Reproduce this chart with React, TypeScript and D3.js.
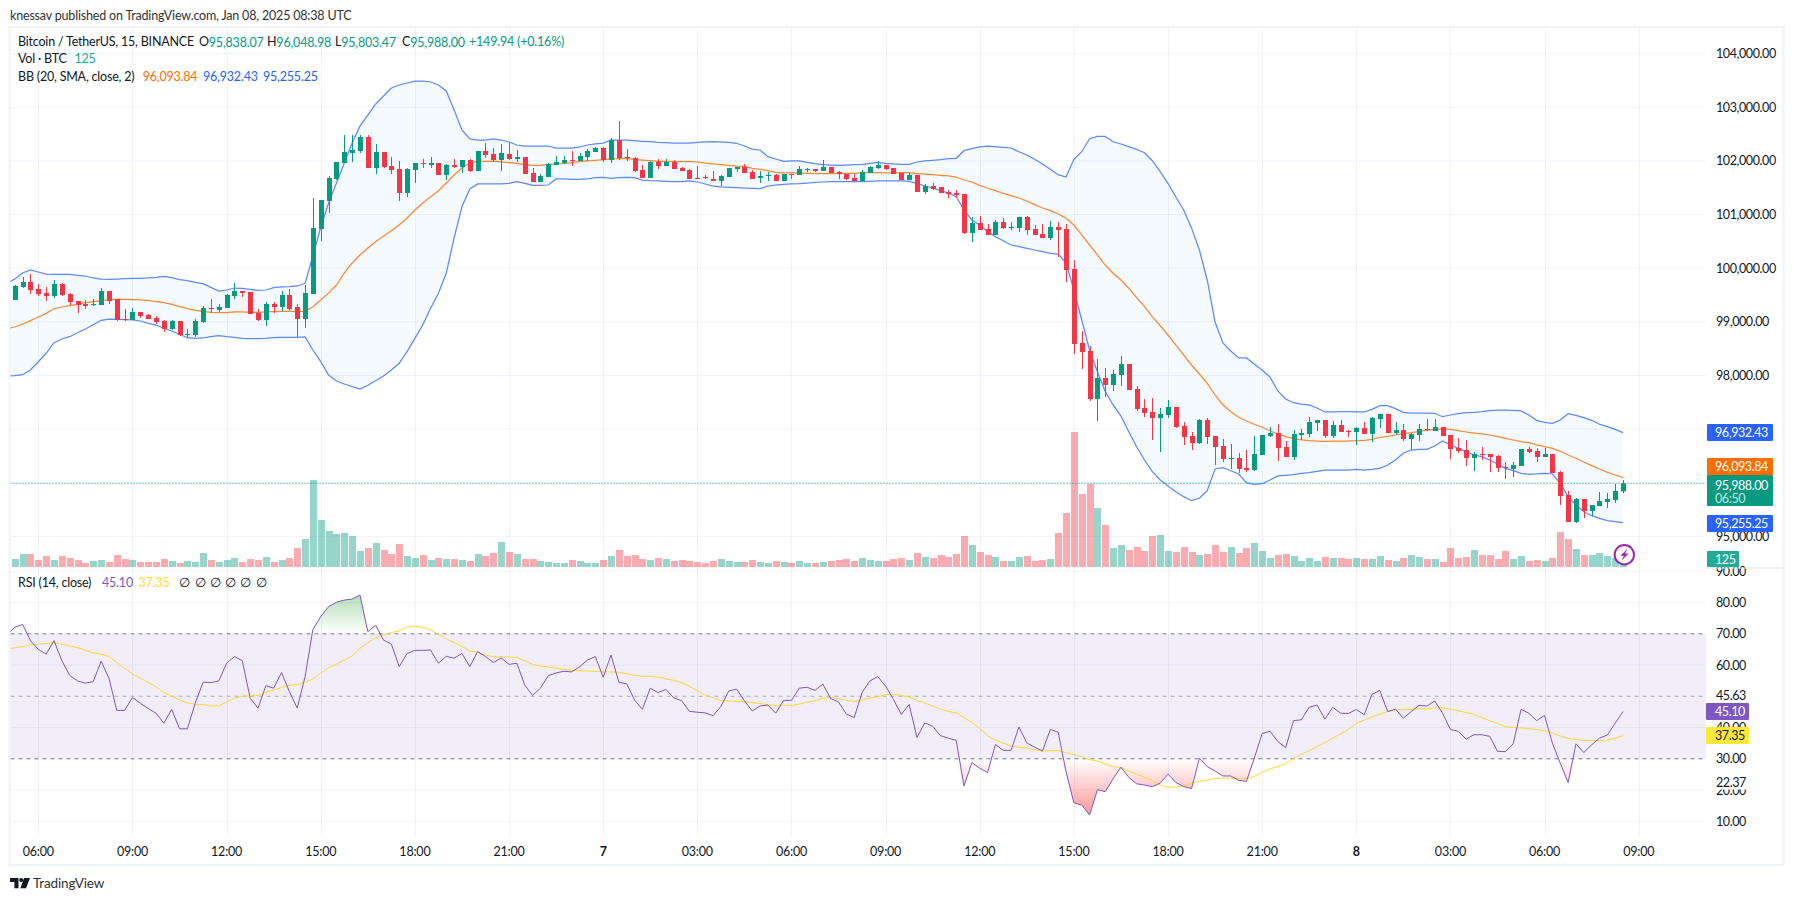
import React from "react";
import * as d3 from "d3";

const opens = [99407,99649,99742,99612,99537,99481,99705,99518,99388,99332,99313,99313,99574,99425,99052,99034,99183,99127,99071,99015,98866,99015,98754,98754,98996,99257,99220,99257,99481,99574,99556,99164,99034,99332,99276,99500,99276,99052,99518,100731,101253,101663,101961,102148,102185,102446,101868,102166,101905,101849,101402,101831,101961,101924,101961,101738,101924,101887,102017,101812,102185,102129,102017,102129,102036,102073,101775,101607,101700,101924,101961,102017,101999,102073,102166,102241,102017,102390,102073,102054,101831,101682,101980,101905,101980,101868,101831,101682,101700,101663,101626,101700,101849,101887,101793,101682,101719,101738,101626,101756,101738,101831,101849,101812,101887,101793,101756,101682,101626,101775,101868,101924,101868,101775,101644,101738,101421,101532,101514,101421,101402,101383,100656,100842,100731,100619,100861,100749,100749,100954,100731,100637,100563,100768,100731,99985,98605,98456,97560,97952,97822,98008,98213,97747,97393,97318,97206,97262,97411,97057,96870,96740,97169,96870,96684,96441,96460,96274,96236,96516,96870,96926,96665,96479,96889,96908,97113,97169,96870,97075,96964,96945,97019,96908,97187,97281,96926,96982,96814,96889,97001,96964,97038,96889,96647,96609,96460,96535,96535,96497,96292,96255,96311,96628,96591,96479,96535,96199,95770,95267,95696,95472,95565,95640,95677,95838.07];
const highs = [99686,99835,99891,99705,99649,99780,99724,99537,99388,99407,99425,99630,99574,99425,99239,99257,99183,99145,99108,99034,99034,99015,98866,99052,99295,99425,99332,99518,99724,99574,99556,99239,99369,99369,99574,99612,99332,99686,101309,101271,101719,101980,102483,102483,102483,102483,102316,102166,102073,101999,101868,101961,102036,102073,101961,101943,102036,102017,102036,102185,102334,102241,102316,102334,102204,102073,101868,101756,101961,102092,102092,102185,102148,102222,102260,102260,102427,102745,102222,102073,101924,101999,102036,102036,102017,101887,101849,101905,101738,101812,101738,101868,101887,101943,101831,101812,101793,101756,101756,101756,101905,101868,101849,102017,101887,101812,101756,101756,101831,101905,101999,101924,101868,101775,101775,101738,101570,101588,101514,101458,101458,101383,100954,100973,100824,100898,100936,100861,100954,100973,100805,100824,100880,100861,100824,100152,98828,98549,98306,98139,98101,98362,98213,97803,97560,97579,97393,97542,97411,97131,96945,97187,97206,96870,96814,96721,96553,96609,96870,96889,97038,97094,96777,96982,97001,97225,97169,97169,97150,97169,96982,97038,97131,97225,97281,97281,97131,97094,96926,97094,97187,97187,97038,96889,96833,96796,96572,96665,96535,96516,96385,96385,96628,96665,96647,96647,96535,96218,95845,95714,95696,95584,95826,95808,95975,96048.98];
const lows = [99407,99630,99518,99481,99388,99444,99481,99313,99164,99239,99295,99313,99332,99015,99015,99034,99071,99052,98959,98810,98847,98735,98717,98717,98978,99164,99183,99257,99425,99462,99145,99015,98922,99164,99201,99220,98717,98884,99518,100507,101029,101644,101961,101980,102148,101868,101756,101868,101756,101253,101327,101588,101868,101868,101738,101644,101868,101775,101793,101812,102054,101980,101812,102017,101980,101756,101607,101607,101700,101924,101943,101905,101999,101999,102166,101980,101961,102017,101999,101793,101682,101682,101849,101905,101849,101812,101663,101663,101663,101626,101532,101700,101793,101775,101663,101588,101626,101626,101626,101663,101738,101793,101793,101812,101775,101663,101644,101626,101626,101775,101849,101831,101756,101644,101644,101421,101383,101458,101402,101309,101309,100637,100488,100712,100619,100619,100731,100712,100675,100619,100619,100563,100525,100208,99742,98400,98120,97523,97150,97598,97710,97803,97728,97337,97225,96796,96572,97206,97019,96703,96609,96721,96721,96330,96385,96255,96180,96199,96218,96516,96852,96404,96479,96423,96796,96852,96964,96833,96833,96945,96852,96703,96908,96758,97019,96926,96889,96777,96609,96777,96964,96964,96870,96441,96553,96311,96218,96423,96199,96199,96069,96106,96311,96553,96385,96479,96180,95584,95267,95248,95341,95379,95565,95528,95621,95803.47];
const closes = [99668,99742,99593,99518,99481,99705,99500,99369,99313,99295,99332,99574,99388,99034,99034,99183,99108,99052,98996,98866,99015,98754,98772,99015,99257,99239,99276,99500,99574,99537,99145,99034,99332,99276,99500,99239,99052,99537,100749,101271,101682,101980,102166,102204,102446,101868,102166,101887,101831,101402,101849,101961,101943,101961,101738,101924,101887,102017,101812,102185,102110,102017,102148,102036,102073,101756,101607,101719,101943,101980,102017,101999,102092,102185,102241,102017,102390,102054,102054,101812,101682,101980,101905,101980,101849,101812,101663,101663,101682,101626,101719,101868,101887,101775,101663,101719,101738,101626,101756,101738,101849,101849,101812,101887,101775,101756,101663,101626,101793,101887,101924,101849,101756,101644,101738,101421,101532,101476,101402,101383,101365,100656,100842,100712,100619,100861,100749,100768,100954,100712,100619,100563,100768,100712,99966,98586,98437,97560,97952,97822,98027,98213,97728,97374,97299,97206,97281,97411,97038,96852,96740,97169,96852,96665,96441,96460,96255,96236,96535,96889,96926,96647,96479,96908,96926,97131,97169,96870,97075,96945,96945,97019,96908,97206,97281,96926,96982,96814,96908,97001,96982,97038,96870,96628,96591,96460,96535,96516,96479,96274,96274,96330,96628,96572,96479,96535,96180,95752,95267,95696,95472,95584,95658,95696,95845,95988];
const volumes = [400,650,650,350,550,350,550,450,350,200,300,350,250,600,400,350,250,250,250,400,300,200,300,250,700,350,250,350,450,250,400,350,500,250,350,450,950,1400,4350,2350,1800,1650,1700,1550,800,950,1200,850,650,1150,550,450,600,350,450,400,400,350,300,650,550,700,1250,750,650,400,400,300,250,200,200,350,300,200,200,350,550,850,550,600,400,350,450,400,300,350,300,250,200,300,400,300,250,250,350,250,200,300,250,200,300,200,200,250,300,350,400,300,450,350,300,300,400,450,350,700,500,450,600,500,650,1550,1100,750,600,500,300,300,500,550,300,350,400,1700,2700,6750,3650,4150,2950,2100,950,1100,850,1000,800,1550,1600,800,750,1000,750,600,650,1100,750,1000,700,950,1200,800,450,600,650,550,300,450,300,500,450,450,400,450,400,400,550,350,300,450,600,500,400,400,250,950,450,500,850,600,600,400,800,400,550,300,350,300,450,1750,1400,900,600,600,700,550,450,125];
// the line series start one bar earlier than the candles (bar index -1, at the left edge)
const bbUpper = [99724,99798,99910,99966,99929,99891,99886,99886,99886,99867,99854,99817,99798,99793,99798,99804,99811,99811,99817,99830,99849,99822,99785,99766,99737,99711,99643,99574,99593,99630,99625,99606,99587,99593,99636,99649,99655,99668,99718,100227,100768,101215,101588,101961,102334,102651,102856,103062,103211,103360,103416,103453,103490,103490,103472,103416,103304,102950,102577,102409,102390,102390,102409,102390,102353,102297,102278,102278,102278,102278,102241,102241,102241,102260,102297,102316,102334,102390,102390,102390,102377,102366,102358,102347,102340,102334,102334,102334,102347,102353,102358,102353,102347,102329,102278,102222,102204,102079,102036,101993,101999,101999,101974,101948,101930,101924,101918,101924,101930,101937,101956,101974,101956,101943,101937,101937,101980,101999,102012,102023,102042,102049,102191,102228,102260,102278,102265,102254,102241,102172,102110,102030,101943,101844,101743,101700,102030,102172,102414,102459,102459,102358,102316,102265,102217,102153,102004,101799,101583,101327,101085,100749,100339,99780,98996,98605,98456,98325,98325,98213,98101,97971,97710,97560,97491,97467,97449,97393,97318,97318,97324,97324,97318,97318,97368,97436,97436,97380,97312,97299,97299,97299,97294,97230,97262,97286,97305,97312,97324,97342,97355,97355,97350,97337,97262,97163,97126,97107,97169,97286,97256,97212,97163,97089,97044,96995,96932.43];
const bbBasis = [98879,98903,98959,99021,99089,99158,99244,99276,99300,99326,99356,99375,99394,99407,99420,99420,99412,99407,99401,99375,99356,99326,99282,99244,99214,99196,99177,99170,99170,99183,99183,99177,99177,99183,99188,99196,99196,99188,99201,99282,99407,99537,99686,99910,100097,100246,100376,100494,100600,100699,100805,100936,101085,101215,101333,101445,101588,101738,101868,101961,101993,101993,101993,101980,101967,101956,101930,101918,101918,101937,101943,101948,101967,101986,102004,102012,102023,102036,102042,102042,102030,102017,102004,101993,101993,101986,101986,101986,101980,101961,101943,101930,101918,101905,101900,101862,101844,101818,101788,101775,101775,101775,101769,101762,101762,101762,101762,101769,101769,101780,101780,101780,101775,101775,101780,101780,101762,101756,101743,101732,101719,101700,101644,101607,101545,101490,101445,101396,101352,101309,101253,101184,101122,101072,101010,100930,100805,100619,100432,100246,100059,99905,99780,99625,99450,99282,99095,98927,98754,98567,98381,98194,98027,97853,97635,97449,97324,97219,97150,97089,97033,96969,96908,96858,96820,96796,96783,96777,96772,96777,96777,96777,96783,96790,96809,96846,96865,96889,96914,96932,96958,96982,96995,97001,96995,96969,96945,96926,96908,96889,96858,96827,96796,96764,96746,96703,96671,96641,96585,96516,96455,96386,96317,96255,96193,96143,96093.84];
const bbLower = [97989,97995,98014,98101,98256,98413,98610,98679,98722,98797,98866,98946,99028,99052,99047,99039,99034,99015,98972,98940,98879,98828,98767,98703,98692,98698,98722,98741,98722,98711,98692,98685,98685,98692,98703,98711,98711,98711,98717,98474,98256,98008,97896,97840,97790,97747,97816,97902,97989,98101,98226,98443,98692,98940,99252,99531,99905,100563,101146,101476,101570,101570,101570,101570,101583,101613,101583,101545,101545,101551,101663,101663,101657,101657,101663,101687,101695,101676,101687,101695,101687,101644,101631,101626,101620,101613,101613,101626,101607,101570,101532,101514,101508,101501,101495,101490,101482,101532,101551,101564,101570,101575,101588,101601,101607,101613,101613,101613,101613,101613,101620,101626,101626,101626,101626,101620,101583,101532,101495,101445,101402,101333,101085,100898,100805,100680,100587,100512,100432,100401,100371,100339,100307,100277,100264,100097,99593,99034,98474,98070,97697,97449,97243,96951,96671,96423,96205,96050,95938,95832,95739,95664,95709,95851,96255,96279,96223,96162,96000,95970,95981,96050,96125,96138,96149,96175,96186,96212,96236,96236,96236,96236,96249,96236,96249,96268,96330,96423,96548,96609,96622,96622,96684,96777,96703,96641,96578,96516,96485,96423,96348,96268,96223,96175,96156,96162,96175,96162,95988,95739,95584,95459,95384,95336,95291,95272,95255.25];
const rsi = [69.6,72.1,73.0,67.8,65.0,63.5,67.8,61.4,56.7,54.9,54.2,54.7,61.2,55.8,45.5,45.5,49.6,47.8,46.1,44.6,41.4,45.8,39.6,39.6,47.8,54.5,54.4,54.9,60.6,62.7,61.4,49.4,46.2,53.4,52.6,57.6,51.5,46.2,56.3,71.4,75.5,78.7,80.1,80.8,81.1,82.4,70.7,72.7,68.0,66.7,59.5,63.7,64.7,64.7,64.8,60.6,62.8,62.2,63.7,59.5,64.3,62.7,60.8,62.3,60.2,60.6,53.6,50.3,52.6,56.6,57.5,58.0,57.8,59.5,61.6,62.7,56.1,63.2,54.5,54.0,48.8,45.8,52.6,51.2,52.2,49.5,48.6,45.2,44.9,44.7,43.8,46.7,51.7,52.3,48.6,45.3,46.9,47.2,44.6,48.7,48.7,52.6,52.9,51.9,53.9,49.3,48.2,44.3,43.2,51.2,54.9,56.3,53.3,49.0,44.2,47.4,36.8,41.5,40.4,37.4,36.6,35.9,21.3,28.8,27.0,25.6,34.6,32.7,32.7,40.2,35.1,33.7,32.5,39.4,38.5,25.9,15.9,15.2,12.0,20.1,19.5,23.6,27.3,24.1,22.0,21.6,21.1,22.2,25.1,22.4,21.1,20.5,30.2,27.5,26.1,24.5,24.5,23.1,22.8,30.2,38.1,38.8,35.5,33.6,42.2,42.5,46.5,47.2,42.7,46.5,44.6,44.5,45.8,44.1,50.6,51.9,45.1,45.9,43.0,45.1,47.1,46.9,48.5,44.6,39.4,38.8,36.3,37.7,37.7,37.2,32.4,32.3,34.8,45.8,44.6,42.2,43.9,35.0,28.6,22.37,34.8,32.0,34.5,36.6,37.6,41.4,45.10];
const rsiMa = [65.2,65.5,65.9,66.4,66.7,66.9,67.2,66.7,66.1,65.6,64.7,63.9,63.5,62.7,60.9,59.0,57.2,55.8,54.5,53.1,51.2,50.1,48.8,47.9,47.4,47.4,46.9,46.9,48.2,49.4,50.0,50.1,50.3,51.3,52.0,52.8,53.5,53.8,54.4,55.6,57.4,59.1,60.3,61.6,62.9,65.3,67.2,68.7,69.7,70.4,70.9,72.1,72.5,72.1,71.2,69.8,68.4,67.2,66.0,64.5,64.1,63.2,62.7,62.6,62.6,62.4,61.4,60.2,59.7,59.4,59.0,58.6,58.3,58.2,58.1,58.0,57.8,57.8,57.7,57.2,56.7,56.4,56.4,56.1,55.6,55.1,54.4,53.2,51.8,50.4,49.6,48.6,48.5,48.4,48.3,48.0,47.7,47.3,47.1,47.1,47.1,47.5,48.1,48.6,49.4,49.6,49.3,48.7,48.4,48.8,49.4,49.8,50.6,50.6,50.3,49.7,48.7,47.9,46.9,45.9,45.2,44.7,43.2,41.6,39.7,37.4,36.0,35.0,34.1,33.7,33.5,32.8,32.5,32.6,32.6,32.0,31.4,30.7,29.7,29.3,28.4,27.5,27.2,26.0,25.1,24.1,23.1,21.6,20.9,21.0,21.3,22.2,22.8,23.2,23.8,23.8,23.8,23.7,23.7,24.3,25.7,26.8,27.5,28.4,30.2,31.4,32.6,33.9,35.2,36.6,38.0,39.4,41.4,42.4,43.4,44.3,45.1,45.6,45.7,45.8,46.0,46.0,46.3,46.3,45.9,45.4,44.8,44.2,43.2,42.2,41.3,40.3,40.0,39.9,39.7,39.3,39.0,38.2,37.3,36.5,36.2,35.9,35.8,35.8,36.0,36.6,37.35];

const timeLabels = ["06:00","09:00","12:00","15:00","18:00","21:00","7","03:00","06:00","09:00","12:00","15:00","18:00","21:00","8","03:00","06:00","09:00"];
const priceTicks = [104000,103000,102000,101000,100000,99000,98000,97000,96000,95000];
const rsiTicks = [90,80,70,60,40,30,20,10];
const GREEN = "#089981", RED = "#f23645", BLUE = "#2962ff", ORANGE = "#ff6d00", PURPLE = "#7e57c2", YELLOW = "#fdd835";
const GRID = "#f0f3fa", TEXT = "#131722";
const FONT = "Lato, 'Open Sans', sans-serif";

const L = 10.5, R = 1706, MAIN_TOP = 28, MAIN_BOTTOM = 567, RSI_TOP = 569, RSI_BOTTOM = 837;

const x = d3.scaleLinear().domain([0, 205]).range([14.8, 14.8 + 205 * 7.845]);
const y = d3.scaleLinear().domain([95000, 103000]).range([536.3, 107.3]);
const yVol = d3.scaleLinear().domain([0, 6750]).range([567, 432]);
const yRsi = d3.scaleLinear().domain([50, 10]).range([696.3, 821.3]);

const fmt = d3.format(",.2f");
const lineOf = (scale: any, offset: number) =>
  d3.line<number>().x((_, i) => x(i + offset)).y((d) => scale(d));

function Badge({ xx, y0, y1, w, fill, text, color = "#fff", sub, pad = 8 }: any) {
  return (
    <g>
      <rect x={xx} y={y0} width={w} height={y1 - y0} fill={fill} rx={1} />
      <text x={xx + pad} y={sub ? y0 + 10 : (y0 + y1) / 2} dominantBaseline="central" fill={color}>{text}</text>
      {sub && <text x={xx + pad} y={y0 + 23} dominantBaseline="central" fill={color} opacity={0.75}>{sub}</text>}
    </g>
  );
}

export default function App() {
  const upper = lineOf(y, -1)(bbUpper) as string;
  const basis = lineOf(y, -1)(bbBasis) as string;
  const lower = lineOf(y, -1)(bbLower) as string;
  const band = d3.area<number>().x((_, i) => x(i - 1)).y0((_, i) => y(bbLower[i])).y1((d) => y(d))(bbUpper) as string;
  const rsiPath = lineOf(yRsi, -1)(rsi) as string;
  const maPath = lineOf(yRsi, -1)(rsiMa) as string;
  const obArea = d3.area<number>().x((_, i) => x(i - 1)).y0(yRsi(70)).y1((d) => yRsi(Math.max(d, 70)))(rsi) as string;
  const osArea = d3.area<number>().x((_, i) => x(i - 1)).y0(yRsi(30)).y1((d) => yRsi(Math.min(d, 30)))(rsi) as string;
  const lastY = y(closes[closes.length - 1]);
  const ticksX = timeLabels.map((_, i) => x(3 + 12 * i));

  return (
    <svg width={1794} height={901} style={{ position: "absolute", left: 0, top: 0, background: "#fff", fontFamily: FONT }}>
      <defs>
        <clipPath id="plot"><rect x={L} y={MAIN_TOP} width={R - L} height={RSI_BOTTOM - MAIN_TOP} /></clipPath>
        <linearGradient id="ob" gradientUnits="userSpaceOnUse" x1={0} x2={0} y1={yRsi(82.4)} y2={yRsi(70)}>
          <stop offset="0" stopColor="#4caf50" stopOpacity={0.42} /><stop offset="1" stopColor="#4caf50" stopOpacity={0} />
        </linearGradient>
        <linearGradient id="os" gradientUnits="userSpaceOnUse" x1={0} x2={0} y1={yRsi(30)} y2={yRsi(12)}>
          <stop offset="0" stopColor="#ff5252" stopOpacity={0} /><stop offset="1" stopColor="#ff5252" stopOpacity={0.6} />
        </linearGradient>
      </defs>

      <text x={10} y={15} dominantBaseline="central" fontSize={12.5} letterSpacing={-0.18} fill="#333">knessav published on TradingView.com, Jan 08, 2025 08:38 UTC</text>

      {/* frame */}
      <rect x={9.5} y={27} width={1774} height={838} fill="none" stroke={GRID} strokeWidth={2} />

      {/* grid */}
      {priceTicks.map((t) => <line key={t} x1={L} x2={R} y1={y(t)} y2={y(t)} stroke={GRID} />)}
      {rsiTicks.filter((t) => t !== 70 && t !== 30).map((t) => <line key={t} x1={L} x2={R} y1={yRsi(t)} y2={yRsi(t)} stroke={GRID} />)}
      {ticksX.map((tx, i) => <line key={i} x1={Math.round(tx) + 0.5} x2={Math.round(tx) + 0.5} y1={MAIN_TOP} y2={RSI_BOTTOM} stroke={GRID} />)}

      <g clipPath="url(#plot)">
        {/* bollinger */}
        <path d={band} fill="#2196f3" fillOpacity={0.05} />
        {/* volume */}
        {volumes.map((v, i) => (
          <rect key={i} x={Math.round(x(i)) - 3.5 + 0.5} width={7} y={yVol(v)} height={567 - yVol(v)}
            fill={closes[i] >= opens[i] ? GREEN : RED} opacity={0.42} />
        ))}
        <path d={upper} fill="none" stroke={BLUE} strokeOpacity={0.75} strokeWidth={1.25} />
        <path d={lower} fill="none" stroke={BLUE} strokeOpacity={0.75} strokeWidth={1.25} />
        <path d={basis} fill="none" stroke={ORANGE} strokeOpacity={0.8} strokeWidth={1.25} />
        {/* last price */}
        <line x1={L} x2={R} y1={lastY} y2={lastY} stroke={GREEN} strokeDasharray="1 2" />
        {/* candles */}
        {opens.map((o, i) => {
          const c = closes[i];
          const col = c >= o ? GREEN : RED;
          const cx = Math.round(x(i)) + 0.5;
          const top = y(Math.max(o, c));
          const h = Math.max(1, y(Math.min(o, c)) - top);
          return (
            <g key={i}>
              <line x1={cx} x2={cx} y1={y(highs[i])} y2={y(lows[i])} stroke={col} />
              <rect x={cx - 2.5} width={5} y={top} height={h} fill={col} />
            </g>
          );
        })}
        {/* RSI */}
        <rect x={L} width={R - L} y={yRsi(70)} height={yRsi(30) - yRsi(70)} fill={PURPLE} fillOpacity={0.1} />
        <path d={obArea} fill="url(#ob)" />
        <path d={osArea} fill="url(#os)" />
        <line x1={L} x2={R} y1={yRsi(70)} y2={yRsi(70)} stroke="#787b86" strokeDasharray="4 4" />
        <line x1={L} x2={R} y1={yRsi(50)} y2={yRsi(50)} stroke="#787b86" strokeOpacity={0.5} strokeDasharray="4 4" />
        <line x1={L} x2={R} y1={yRsi(30)} y2={yRsi(30)} stroke="#787b86" strokeDasharray="4 4" />
        <path d={maPath} fill="none" stroke={YELLOW} />
        <path d={rsiPath} fill="none" stroke={PURPLE} />
      </g>

      {/* legends */}
      <g fontSize={12.5} dominantBaseline="central" fill={TEXT} letterSpacing={-0.2}>
        <text x={18} y={41.5}>Bitcoin / TetherUS, 15, BINANCE</text>
        <text x={199} y={41.5}>O<tspan fill={GREEN}>95,838.07</tspan></text>
        <text x={267} y={41.5}>H<tspan fill={GREEN}>96,048.98</tspan></text>
        <text x={335} y={41.5}>L<tspan fill={GREEN}>95,803.47</tspan></text>
        <text x={402} y={41.5}>C<tspan fill={GREEN}>95,988.00</tspan></text>
        <text x={469} y={41.5} fill={GREEN}>+149.94 (+0.16%)</text>
        <text x={18} y={58.7}>Vol · BTC</text>
        <text x={74.5} y={58.7} fill="#22ab94">125</text>
        <text x={18} y={76}>BB (20, SMA, close, 2)</text>
        <text x={142.7} y={76} fill={ORANGE}>{fmt(bbBasis[bbBasis.length - 1])}</text>
        <text x={203} y={76} fill={BLUE}>{fmt(bbUpper[bbUpper.length - 1])}</text>
        <text x={263} y={76} fill={BLUE}>{fmt(bbLower[bbLower.length - 1])}</text>
        <text x={18} y={582.7}>RSI (14, close)</text>
        <text x={102} y={582.7} fill={PURPLE}>45.10</text>
        <text x={138.5} y={582.7} fill={YELLOW}>37.35</text>
        {[179, 195, 210, 225, 240, 256].map((tx) => <text key={tx} x={tx} y={582.7} fill={TEXT}>∅</text>)}
      </g>

      {/* price axis */}
      <g fontSize={12.5} dominantBaseline="central" fill={TEXT} letterSpacing={-0.4}>
        {priceTicks.map((t) => <text key={t} x={1716} y={y(t)}>{d3.format(",.2f")(t)}</text>)}
        {rsiTicks.map((t) => <text key={t} x={1716} y={yRsi(t)}>{t.toFixed(2)}</text>)}
        <rect x={1713} y={688} width={34} height={14} fill="#fff" />
        <text x={1716} y={695}>45.63</text>
        <rect x={1713} y={775.5} width={34} height={14} fill="#fff" />
        <text x={1716} y={782.7}>22.37</text>
      </g>
      <line x1={R} x2={1783} y1={568} y2={568} stroke="#e0e3eb" />
      <g fontSize={12.5} letterSpacing={-0.4}>
        <Badge xx={1707} y0={424} y1={441} w={66} fill={BLUE} text="96,932.43" />
        <Badge xx={1707} y0={458} y1={475} w={66} fill={ORANGE} text="96,093.84" />
        <Badge xx={1707} y0={475} y1={506} w={66} fill={GREEN} text="95,988.00" sub="06:50" />
        <Badge xx={1707} y0={515} y1={532} w={66} fill={BLUE} text="95,255.25" />
        <Badge xx={1707} y0={551} y1={567} w={32} fill="#22ab94" text="125" />
        <Badge xx={1706} y0={703} y1={720} w={43} fill={PURPLE} text="45.10" pad={9} />
        <Badge xx={1706} y0={727} y1={744} w={43} fill="#fde83a" text="37.35" color={TEXT} pad={9} />
      </g>

      {/* time axis */}
      <g fontSize={12.5} letterSpacing={-0.2} textAnchor="middle" dominantBaseline="central" fill={TEXT}>
        {timeLabels.map((t, i) => (
          <text key={i} x={ticksX[i]} y={851.7} fontWeight={t.length === 1 ? 700 : 400}>{t}</text>
        ))}
      </g>

      {/* lightning badge */}
      <circle cx={1624.3} cy={554.7} r={9.7} fill="#fff" stroke="#9c27b0" strokeWidth={2} />
      <path d="M1627.5 548.8 L1620.4 555.8 L1623.9 555.8 L1621.6 560.6 L1628.6 553.4 L1625 553.4 Z" fill="#9c27b0" />

      {/* logo */}
      <path d="M10 878 H18.5 V888.2 H14.4 V882 H10 Z M24 878 H30 L26 888.2 H20.4 Z" fill="#131722" />
      <circle cx={21.2} cy={880} r={2} fill="#131722" />
      <text x={33} y={883} fontSize={13.5} letterSpacing={-0.15} dominantBaseline="central" fill="#333">TradingView</text>
    </svg>
  );
}
